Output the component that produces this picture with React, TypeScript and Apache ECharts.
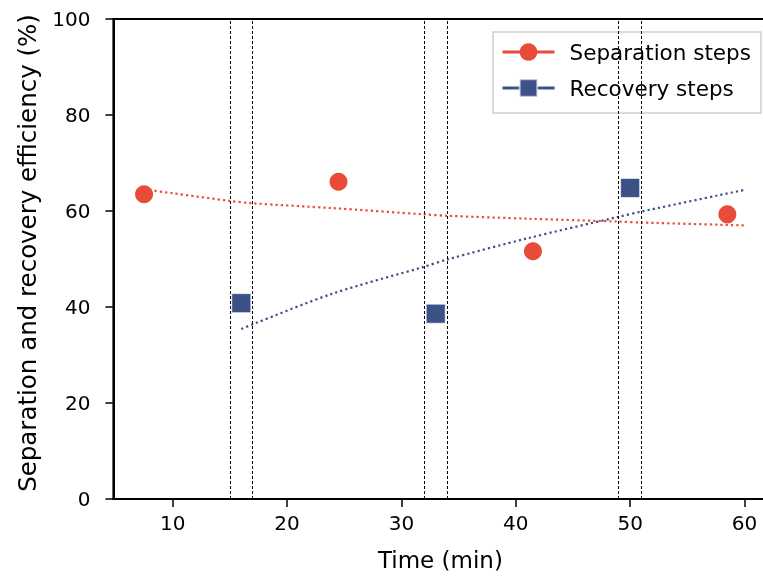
import React, { useEffect, useRef } from 'react';
import * as echarts from 'echarts';

// Measured data
const sepX = [7.5, 24.5, 41.5, 58.5];
const sepY = [63.5, 66.1, 51.6, 59.3];
const recX = [16, 33, 50];
const recY = [40.8, 38.6, 64.8];

// Trend lines
const sepTrendX = [7.5, 10, 15, 17, 24, 32, 34, 41, 49, 51, 60];
const sepTrendY = [64.5, 63.7, 62.1, 61.6, 60.6, 59.3, 59.0, 58.4, 57.8, 57.6, 57.0];
const recTrendX = [16, 17, 24, 32, 34, 41, 49, 51, 60];
const recTrendY = [35.4, 36.4, 42.8, 48.4, 49.9, 54.3, 58.8, 59.9, 64.4];

// Vertical dashed markers (min)
const markerX = [15, 17, 32, 34, 49, 51];

const xTicks = [10, 20, 30, 40, 50, 60];
const yTicks = [0, 20, 40, 60, 80, 100];

const seriesNames = ['Separation steps', 'Recovery steps'];

const RED = '#E84B37';
const BLUE = '#3C5287';
const FONT = 'DejaVu Sans';

export default function App() {
  const ref = useRef<HTMLDivElement>(null);
  useEffect(() => {
    const chart = echarts.init(ref.current!, null, { renderer: 'svg' });
    chart.setOption({
      animation: false,
      grid: {
        left: 113.4,
        top: 19,
        width: 654,
        height: 480,
        show: true,
        borderColor: '#000',
        borderWidth: 2,
        backgroundColor: 'transparent',
        outerBoundsMode: 'none',
        containLabel: false,
      },
      xAxis: {
        type: 'value',
        min: 4.82,
        max: 62,
        name: 'Time (min)',
        nameLocation: 'middle',
        nameGap: 49,
        nameTextStyle: { fontFamily: FONT, fontSize: 23, color: '#000' },
        axisLine: { show: true, onZero: false, lineStyle: { color: '#000', width: 2 } },
        axisTick: { show: true, inside: false, length: 8, lineStyle: { color: '#000', width: 1.5 }, customValues: xTicks },
        axisLabel: { customValues: xTicks, margin: 14, fontFamily: FONT, fontSize: 20, color: '#000' },
        splitLine: { show: false },
      },
      yAxis: {
        type: 'value',
        min: 0,
        max: 100,
        name: 'Separation and recovery efficiency (%)',
        nameLocation: 'middle',
        nameGap: 73,
        nameRotate: 90,
        nameTextStyle: { fontFamily: FONT, fontSize: 24.5, color: '#000', padding: [0, 0, 0, 12] },
        axisLine: { show: true, lineStyle: { color: '#000', width: 2 } },
        axisTick: { show: true, inside: false, length: 8, lineStyle: { color: '#000', width: 1.5 }, customValues: yTicks },
        axisLabel: { customValues: yTicks, margin: 23, fontFamily: FONT, fontSize: 20, color: '#000' },
        splitLine: { show: false },
      },
      legend: {
        orient: 'vertical',
        left: 493,
        top: 32,
        data: seriesNames,
        itemWidth: 52,
        itemHeight: 22,
        itemGap: 14,
        padding: [9, 10, 14, 8],
        borderColor: '#cfcfcf',
        borderWidth: 1.5,
        backgroundColor: '#fff',
        textStyle: { fontFamily: FONT, fontSize: 21.5, color: '#000', padding: [0, 0, 0, 10] },
        lineStyle: { width: 3, opacity: 1 },
      },
      series: [
        {
          name: 'sepTrend',
          type: 'line',
          data: sepTrendX.map((x, i) => [x, sepTrendY[i]]),
          smooth: 0.3,
          showSymbol: false,
          silent: true,
          z: 2,
          lineStyle: { color: RED, width: 2.2, type: [2.2, 3.1] },
          markLine: {
            silent: true,
            symbol: ['none', 'none'],
            label: { show: false },
            lineStyle: { color: '#000', width: 1, type: [3, 2] },
            data: markerX.map((x) => ({ xAxis: x })),
          },
        },
        {
          name: 'recTrend',
          type: 'line',
          data: recTrendX.map((x, i) => [x, recTrendY[i]]),
          smooth: 0.3,
          showSymbol: false,
          silent: true,
          z: 2,
          lineStyle: { color: BLUE, width: 2.2, type: [2.2, 3.1] },
        },
        {
          name: seriesNames[0],
          type: 'line',
          data: sepX.map((x, i) => [x, sepY[i]]),
          symbol: 'circle',
          symbolSize: 18,
          z: 5,
          color: RED,
          itemStyle: { color: RED },
          lineStyle: { width: 0, opacity: 0 },
        },
        {
          name: seriesNames[1],
          type: 'line',
          data: recX.map((x, i) => [x, recY[i]]),
          symbol: 'rect',
          symbolSize: 19,
          z: 5,
          color: BLUE,
          itemStyle: { color: BLUE, borderColor: 'rgba(255,255,255,0.6)', borderWidth: 1 },
          lineStyle: { width: 0, opacity: 0 },
        },
      ],
    });
    return () => chart.dispose();
  }, []);
  return <div ref={ref} style={{ position: 'fixed', left: 0, top: 0, width: 763, height: 578 }} />;
}
